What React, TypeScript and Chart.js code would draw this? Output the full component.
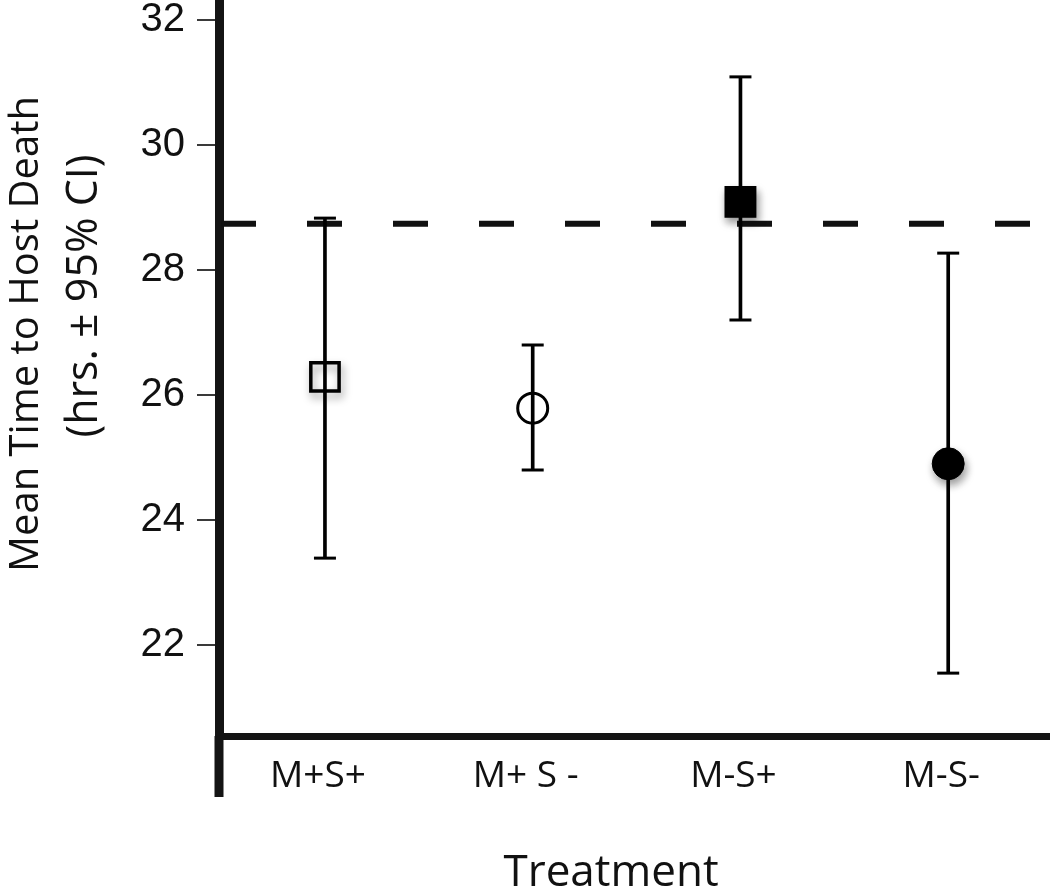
import React, { useEffect, useRef } from "react";
import { Chart, registerables } from "chart.js";

Chart.register(...registerables);

// ---------- data ----------
const treatments = ["M+S+", "M+ S -", "M-S+", "M-S-"];
const meanHours = [26.29, 25.79, 29.09, 24.9];
const ciLower = [23.39, 24.8, 27.2, 21.55];
const ciUpper = [28.83, 26.8, 31.09, 28.27];
const overallMean = 28.74;
const yTickValues = [22, 24, 26, 28, 30, 32];

// ---------- styles ----------
const markerStyles = ["rect", "circle", "rect", "circle"];
const markerFills = ["rgba(0,0,0,0)", "rgba(0,0,0,0)", "#000", "#000"];
const markerRadii = [20, 15, 21.5, 16];
const markerBorders = [3.5, 3, 1.5, 1];
const markerShadow = [true, false, true, true];

const X_MIN = 0.49;
const X_MAX = 4.49;
const Y_MIN = 20.544;
const Y_MAX = 32.32;
const Y_AXIS_WIDTH = 219;
const X_AXIS_HEIGHT = 153;
const AXIS_EXTENSION = 61;

export default function App() {
  const ref = useRef<HTMLCanvasElement>(null);

  useEffect(() => {
    const canvas = ref.current!;

    const shadowPlugin = {
      id: "markerShadow",
      beforeDatasetDraw(chart: any, args: any) {
        const ds = chart.data.datasets[args.index];
        if (ds.shadow) {
          const ctx = chart.ctx;
          ctx.save();
          ctx.shadowColor = "rgba(0,0,0,0.4)";
          ctx.shadowBlur = 8;
          ctx.shadowOffsetX = 2;
          ctx.shadowOffsetY = 5;
        }
      },
      afterDatasetDraw(chart: any, args: any) {
        const ds = chart.data.datasets[args.index];
        if (ds.shadow) chart.ctx.restore();
      },
    };

    const titlesPlugin = {
      id: "axisTitles",
      afterDraw(chart: any) {
        const { ctx, chartArea } = chart;
        ctx.save();
        ctx.fillStyle = "#141414";
        // y axis line continues below the x axis
        ctx.fillRect(chartArea.left - 4.5, chartArea.bottom, 9, AXIS_EXTENSION);

        ctx.fillStyle = "#111";
        ctx.textAlign = "center";
        ctx.textBaseline = "alphabetic";
        // y title (two lines)
        ctx.save();
        ctx.translate(38, 334);
        ctx.rotate(-Math.PI / 2);
        ctx.font = '40px "Open Sans"';
        ctx.fillText("Mean Time to Host Death", 0, 0);
        ctx.restore();
        ctx.save();
        ctx.translate(97, 296);
        ctx.rotate(-Math.PI / 2);
        ctx.font = '43px "Open Sans"';
        ctx.fillText("(hrs. \u00B1 95% CI)", 0, 0);
        ctx.restore();
        // x title
        ctx.font = '44px "Open Sans"';
        ctx.fillText("Treatment", 611, 886);
        ctx.restore();
      },
    };

    const noPadding = (axis: any) => {
      axis.paddingTop = 0;
      axis.paddingBottom = 0;
      axis.paddingLeft = 0;
      axis.paddingRight = 0;
    };

    const markerDatasets = treatments.map((t, i) => ({
      type: "scatter" as const,
      label: t,
      data: [{ x: i + 1, y: meanHours[i] }],
      pointStyle: markerStyles[i],
      pointRadius: markerRadii[i],
      borderWidth: markerBorders[i],
      borderColor: "#000",
      backgroundColor: markerFills[i],
      shadow: markerShadow[i],
    }));

    const chart = new Chart(canvas, {
      type: "scatter",
      data: {
        datasets: [
          ...markerDatasets,
          {
            type: "scatter",
            label: "CI caps",
            data: [
              ...ciLower.map((v, i) => ({ x: i + 1, y: v })),
              ...ciUpper.map((v, i) => ({ x: i + 1, y: v })),
            ],
            pointStyle: "line",
            pointRadius: 11,
            borderWidth: 3,
            borderColor: "#000",
          },
          {
            type: "bar",
            label: "95% CI",
            data: treatments.map((_, i) => ({ x: i + 1, y: [ciLower[i], ciUpper[i]] })),
            backgroundColor: "#000",
            barThickness: 3,
            grouped: false,
          },
          {
            type: "line",
            label: "overall mean",
            data: [
              { x: X_MIN, y: overallMean },
              { x: X_MAX, y: overallMean },
            ],
            borderColor: "#111",
            borderWidth: 6,
            borderDash: [35, 51],
            borderDashOffset: -2,
            pointRadius: 0,
            fill: false,
          },
        ] as any,
      },
      options: {
        responsive: false,
        animation: false,
        events: [],
        layout: { padding: 0, autoPadding: false },
        plugins: {
          legend: { display: false },
          tooltip: { enabled: false },
          title: { display: false },
        },
        scales: {
          x: {
            type: "linear",
            min: X_MIN,
            max: X_MAX,
            offset: false,
            afterBuildTicks: (axis: any) => {
              axis.ticks = treatments.map((_, i) => ({ value: i + 1 }));
            },
            afterFit: (axis: any) => {
              axis.height = X_AXIS_HEIGHT;
              noPadding(axis);
            },
            grid: { display: false, drawTicks: false, offset: false },
            border: { display: true, width: 7, color: "#141414" },
            ticks: {
              callback: (v: any) => treatments[Math.round(v) - 1] ?? "",
              font: { family: '"Open Sans"', size: 37 },
              color: "#111",
              padding: 18,
              labelOffset: -7,
              maxRotation: 0,
              autoSkip: false,
            },
          },
          y: {
            type: "linear",
            min: Y_MIN,
            max: Y_MAX,
            afterBuildTicks: (axis: any) => {
              axis.ticks = yTickValues.map((v) => ({ value: v }));
            },
            afterFit: (axis: any) => {
              axis.width = Y_AXIS_WIDTH;
              noPadding(axis);
            },
            grid: {
              drawOnChartArea: false,
              drawTicks: true,
              tickLength: 22,
              tickWidth: 2,
              tickColor: "#3a3a3a",
              lineWidth: 2,
            },
            border: { display: true, width: 9, color: "#141414" },
            ticks: {
              font: { family: '"Liberation Sans"', size: 40 },
              color: "#111",
              padding: 12,
            },
          },
        },
      } as any,
      plugins: [shadowPlugin, titlesPlugin],
    });

    return () => chart.destroy();
  }, []);

  return (
    <canvas
      ref={ref}
      width={1050}
      height={889}
      style={{ position: "absolute", left: 0, top: 0 }}
    />
  );
}
